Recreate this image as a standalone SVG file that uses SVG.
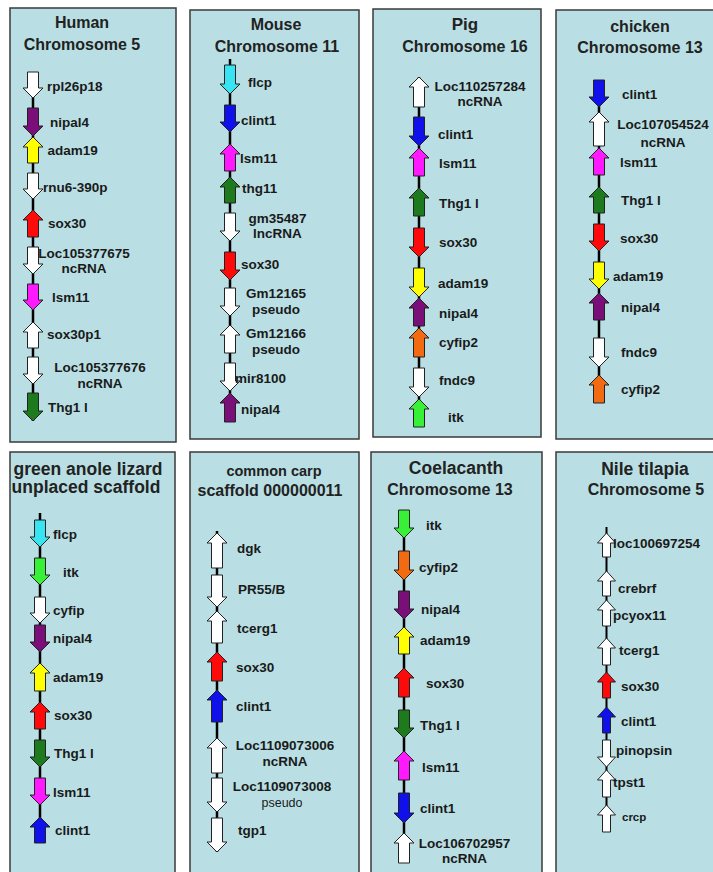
<svg xmlns="http://www.w3.org/2000/svg" width="713" height="872" viewBox="0 0 713 872">
  <style>
    .panel { fill: #b9dfe4; stroke: #3a3a3a; stroke-width: 1.5; }
    .title { font-family: "Liberation Sans", Arial, sans-serif; font-weight: bold; font-size: 16px; fill: #222; text-anchor: middle; }
    .lbl { font-family: "Liberation Sans", Arial, sans-serif; font-weight: bold; font-size: 13.5px; fill: #1a1a1a; }
    .c { text-anchor: middle; }
    .thin { font-weight: normal; font-size: 12.5px; }
    .sm { font-size: 11.5px; }
    .chr { stroke: #000; stroke-width: 2.5; fill: none; }
    .g { stroke: #222; stroke-width: 1; stroke-linejoin: miter; }
    .w { fill: #ffffff; }
    .pu { fill: #7a0f7a; }
    .ye { fill: #ffff00; }
    .re { fill: #ff0a0a; }
    .ma { fill: #ff19ff; }
    .gr { fill: #1d7a1d; }
    .cy { fill: #38e4f2; }
    .bl { fill: #1010ea; }
    .or { fill: #f26a12; }
    .li { fill: #38f038; }
  </style>

  <!-- Human chromosome 5 -->
  <g id="human">
    <rect class="panel" x="10" y="8" width="166" height="434"/>
    <text class="title" x="82" y="28">Human</text>
    <text class="title" x="82" y="50">Chromosome 5</text>
    <g id="human-connectors"><line class="chr" x1="33" y1="72" x2="33" y2="421"/></g>
    <g id="h-rpl26p18"><path class="g w" d="M27.5 72H38.5V88H43L33 98L23 88H27.5Z"/><text class="lbl" x="47" y="91">rpl26p18</text></g>
    <g id="h-nipal4"><path class="g pu" d="M27.5 108H38.5V126H43L33 136L23 126H27.5Z"/><text class="lbl" x="50" y="127">nipal4</text></g>
    <g id="h-adam19"><path class="g ye" d="M27.5 163H38.5V147H43L33 137L23 147H27.5Z"/><text class="lbl" x="47.5" y="155">adam19</text></g>
    <g id="h-rnu6"><path class="g w" d="M27.5 173H38.5V189H43L33 199L23 189H27.5Z"/><text class="lbl" x="43" y="192">rnu6-390p</text></g>
    <g id="h-sox30"><path class="g re" d="M27.5 237H38.5V220H43L33 210L23 220H27.5Z"/><text class="lbl" x="48" y="228">sox30</text></g>
    <g id="h-loc105377675"><path class="g w" d="M27.5 247H38.5V264H43L33 274L23 264H27.5Z"/><text class="lbl c" x="84" y="258">Loc105377675</text><text class="lbl c" x="84" y="273">ncRNA</text></g>
    <g id="h-lsm11"><path class="g ma" d="M27.5 284H38.5V300H43L33 310L23 300H27.5Z"/><text class="lbl" x="52" y="302">lsm11</text></g>
    <g id="h-sox30p1"><path class="g w" d="M27.5 348H38.5V332H43L33 322L23 332H27.5Z"/><text class="lbl" x="47" y="339">sox30p1</text></g>
    <g id="h-loc105377676"><path class="g w" d="M27.5 357H38.5V374H43L33 384L23 374H27.5Z"/><text class="lbl c" x="100" y="372">Loc105377676</text><text class="lbl c" x="100" y="388">ncRNA</text></g>
    <g id="h-thg1l"><path class="g gr" d="M27.5 393H38.5V411H43L33 421L23 411H27.5Z"/><text class="lbl" x="48" y="412">Thg1 l</text></g>
  </g>

  <!-- Mouse chromosome 11 -->
  <g id="mouse">
    <rect class="panel" x="190" y="10" width="169" height="429"/>
    <text class="title" x="276" y="30">Mouse</text>
    <text class="title" x="277" y="52">Chromosome 11</text>
    <g id="mouse-connectors"><line class="chr" x1="230" y1="59" x2="230" y2="422"/></g>
    <g id="m-flcp"><path class="g cy" d="M224.5 65H235.5V84H240L230 94L220 84H224.5Z"/><text class="lbl" x="248" y="87">flcp</text></g>
    <g id="m-clint1"><path class="g bl" d="M224.5 105H235.5V122H240L230 132L220 122H224.5Z"/><text class="lbl" x="241" y="125">clint1</text></g>
    <g id="m-lsm11"><path class="g ma" d="M224.5 171H235.5V154H240L230 144L220 154H224.5Z"/><text class="lbl" x="240" y="163">lsm11</text></g>
    <g id="m-thg11"><path class="g gr" d="M224.5 203H235.5V187H240L230 177L220 187H224.5Z"/><text class="lbl" x="242" y="193">thg11</text></g>
    <g id="m-gm35487"><path class="g w" d="M224.5 213H235.5V231H240L230 241L220 231H224.5Z"/><text class="lbl c" x="277.5" y="223">gm35487</text><text class="lbl c" x="277.5" y="238">lncRNA</text></g>
    <g id="m-sox30"><path class="g re" d="M224.5 252H235.5V270H240L230 280L220 270H224.5Z"/><text class="lbl" x="241" y="269">sox30</text></g>
    <g id="m-gm12165"><path class="g w" d="M224.5 288H235.5V306H240L230 316L220 306H224.5Z"/><text class="lbl c" x="276" y="298">Gm12165</text><text class="lbl c" x="276" y="314">pseudo</text></g>
    <g id="m-gm12166"><path class="g w" d="M224.5 353H235.5V335H240L230 325L220 335H224.5Z"/><text class="lbl c" x="276" y="338">Gm12166</text><text class="lbl c" x="276" y="354">pseudo</text></g>
    <g id="m-mir8100"><path class="g w" d="M224.5 363H235.5V381H240L230 391L220 381H224.5Z"/><text class="lbl" x="235" y="383">mir8100</text></g>
    <g id="m-nipal4"><path class="g pu" d="M224.5 422H235.5V403H240L230 393L220 403H224.5Z"/><text class="lbl" x="241" y="414">nipal4</text></g>
  </g>

  <!-- Pig chromosome 16 -->
  <g id="pig">
    <rect class="panel" x="373" y="9" width="168" height="428"/>
    <text class="title" x="465" y="30" style="font-size:17px">Pig</text>
    <text class="title" x="465" y="52">Chromosome 16</text>
    <g id="pig-connectors"><line class="chr" x1="419" y1="77" x2="419" y2="427"/></g>
    <g id="p-loc110257284"><path class="g w" d="M413.5 107H424.5V87H429L419 77L409 87H413.5Z"/><text class="lbl c" x="480" y="91">Loc110257284</text><text class="lbl c" x="480" y="106">ncRNA</text></g>
    <g id="p-clint1"><path class="g bl" d="M413.5 117H424.5V136H429L419 146L409 136H413.5Z"/><text class="lbl" x="438" y="139">clint1</text></g>
    <g id="p-lsm11"><path class="g ma" d="M413.5 176H424.5V158H429L419 148L409 158H413.5Z"/><text class="lbl" x="439" y="168">lsm11</text></g>
    <g id="p-thg1l"><path class="g gr" d="M413.5 216H424.5V198H429L419 188L409 198H413.5Z"/><text class="lbl" x="439" y="208">Thg1 l</text></g>
    <g id="p-sox30"><path class="g re" d="M413.5 228H424.5V247H429L419 257L409 247H413.5Z"/><text class="lbl" x="439" y="247">sox30</text></g>
    <g id="p-adam19"><path class="g ye" d="M413.5 268H424.5V287H429L419 297L409 287H413.5Z"/><text class="lbl" x="438" y="288">adam19</text></g>
    <g id="p-nipal4"><path class="g pu" d="M413.5 326H424.5V308H429L419 298L409 308H413.5Z"/><text class="lbl" x="439" y="318">nipal4</text></g>
    <g id="p-cyfip2"><path class="g or" d="M413.5 357H424.5V338H429L419 328L409 338H413.5Z"/><text class="lbl" x="439" y="347">cyfip2</text></g>
    <g id="p-fndc9"><path class="g w" d="M413.5 368H424.5V387H429L419 397L409 387H413.5Z"/><text class="lbl" x="439" y="385">fndc9</text></g>
    <g id="p-itk"><path class="g li" d="M413.5 427H424.5V409H429L419 399L409 409H413.5Z"/><text class="lbl" x="448" y="422">itk</text></g>
  </g>

  <!-- Chicken chromosome 13 -->
  <g id="chicken">
    <rect class="panel" x="556" y="10" width="160" height="429"/>
    <text class="title" x="640" y="32">chicken</text>
    <text class="title" x="640" y="53">Chromosome 13</text>
    <g id="chicken-connectors"><line class="chr" x1="599" y1="80" x2="599" y2="403"/></g>
    <g id="c-clint1"><path class="g bl" d="M593.5 80H604.5V97H609L599 107L589 97H593.5Z"/><text class="lbl" x="622" y="99">clint1</text></g>
    <g id="c-loc107054524"><path class="g w" d="M593.5 146H604.5V122H609L599 112L589 122H593.5Z"/><text class="lbl c" x="663" y="129">Loc107054524</text><text class="lbl c" x="663" y="147">ncRNA</text></g>
    <g id="c-lsm11"><path class="g ma" d="M593.5 175H604.5V158H609L599 148L589 158H593.5Z"/><text class="lbl" x="620" y="167">lsm11</text></g>
    <g id="c-thg1l"><path class="g gr" d="M593.5 213H604.5V197H609L599 187L589 197H593.5Z"/><text class="lbl" x="621" y="205">Thg1 l</text></g>
    <g id="c-sox30"><path class="g re" d="M593.5 224H604.5V241H609L599 251L589 241H593.5Z"/><text class="lbl" x="620" y="243">sox30</text></g>
    <g id="c-adam19"><path class="g ye" d="M593.5 262H604.5V279H609L599 289L589 279H593.5Z"/><text class="lbl" x="613" y="281">adam19</text></g>
    <g id="c-nipal4"><path class="g pu" d="M593.5 320H604.5V303H609L599 293L589 303H593.5Z"/><text class="lbl" x="621" y="312">nipal4</text></g>
    <g id="c-fndc9"><path class="g w" d="M593.5 338H604.5V357H609L599 367L589 357H593.5Z"/><text class="lbl" x="621" y="357">fndc9</text></g>
    <g id="c-cyfip2"><path class="g or" d="M593.5 403H604.5V385H609L599 375L589 385H593.5Z"/><text class="lbl" x="621" y="394">cyfip2</text></g>
  </g>

  <!-- Green anole lizard unplaced scaffold -->
  <g id="lizard">
    <rect class="panel" x="10" y="452" width="165" height="430"/>
    <text class="title" x="88" y="475" style="font-size:17.5px">green anole lizard</text>
    <text class="title" x="86" y="493" style="font-size:17.5px">unplaced scaffold</text>
    <g id="lizard-connectors"><line class="chr" x1="40" y1="513" x2="40" y2="843"/></g>
    <g id="l-flcp"><path class="g cy" d="M34.5 520H45.5V537H50L40 547L30 537H34.5Z"/><text class="lbl" x="53" y="539">flcp</text></g>
    <g id="l-itk"><path class="g li" d="M34.5 558H45.5V575H50L40 585L30 575H34.5Z"/><text class="lbl" x="63" y="577">itk</text></g>
    <g id="l-cyfip"><path class="g w" d="M34.5 597H45.5V613H50L40 623L30 613H34.5Z"/><text class="lbl" x="53" y="615">cyfip</text></g>
    <g id="l-nipal4"><path class="g pu" d="M34.5 625H45.5V642H50L40 652L30 642H34.5Z"/><text class="lbl" x="53" y="643">nipal4</text></g>
    <g id="l-adam19"><path class="g ye" d="M34.5 691H45.5V673H50L40 663L30 673H34.5Z"/><text class="lbl" x="53" y="682">adam19</text></g>
    <g id="l-sox30"><path class="g re" d="M34.5 729H45.5V712H50L40 702L30 712H34.5Z"/><text class="lbl" x="54" y="720">sox30</text></g>
    <g id="l-thg1l"><path class="g gr" d="M34.5 740H45.5V757H50L40 767L30 757H34.5Z"/><text class="lbl" x="54" y="758">Thg1 l</text></g>
    <g id="l-lsm11"><path class="g ma" d="M34.5 778H45.5V795H50L40 805L30 795H34.5Z"/><text class="lbl" x="53" y="797">lsm11</text></g>
    <g id="l-clint1"><path class="g bl" d="M34.5 843H45.5V827H50L40 817L30 827H34.5Z"/><text class="lbl" x="55" y="835">clint1</text></g>
  </g>

  <!-- Common carp scaffold -->
  <g id="carp">
    <rect class="panel" x="190" y="452" width="169" height="430"/>
    <text class="title" x="274" y="476" style="font-size:14.5px">common carp</text>
    <text class="title" x="270" y="496">scaffold 000000011</text>
    <g id="carp-connectors"><line class="chr" x1="217" y1="531" x2="217" y2="852"/></g>
    <g id="k-dgk"><path class="g w" d="M211.5 568H222.5V543H227L217 533L207 543H211.5Z"/><text class="lbl" x="237" y="553">dgk</text></g>
    <g id="k-pr55b"><path class="g w" d="M211.5 575H222.5V597H227L217 607L207 597H211.5Z"/><text class="lbl" x="238" y="594">PR55/B</text></g>
    <g id="k-tcerg1"><path class="g w" d="M211.5 643H222.5V621H227L217 611L207 621H211.5Z"/><text class="lbl" x="237" y="633">tcerg1</text></g>
    <g id="k-sox30"><path class="g re" d="M211.5 681H222.5V662H227L217 652L207 662H211.5Z"/><text class="lbl" x="236" y="672">sox30</text></g>
    <g id="k-clint1"><path class="g bl" d="M211.5 722H222.5V700H227L217 690L207 700H211.5Z"/><text class="lbl" x="236" y="711">clint1</text></g>
    <g id="k-loc1109073006"><path class="g w" d="M211.5 773H222.5V748H227L217 738L207 748H211.5Z"/><text class="lbl c" x="285" y="750">Loc1109073006</text><text class="lbl c" x="285" y="766">ncRNA</text></g>
    <g id="k-loc1109073008"><path class="g w" d="M211.5 778H222.5V802H227L217 812L207 802H211.5Z"/><text class="lbl c" x="282" y="791">Loc1109073008</text><text class="lbl c thin" x="282" y="807">pseudo</text></g>
    <g id="k-tgp1"><path class="g w" d="M211.5 818H222.5V842H227L217 852L207 842H211.5Z"/><text class="lbl" x="238" y="835">tgp1</text></g>
  </g>

  <!-- Coelacanth chromosome 13 -->
  <g id="coelacanth">
    <rect class="panel" x="371" y="452" width="171" height="430"/>
    <text class="title" x="456" y="474" style="font-size:17.5px">Coelacanth</text>
    <text class="title" x="450" y="495">Chromosome 13</text>
    <g id="coelacanth-connectors"><line class="chr" x1="404" y1="510" x2="404" y2="863"/></g>
    <g id="o-itk"><path class="g li" d="M398.5 510H409.5V528H414L404 538L394 528H398.5Z"/><text class="lbl" x="426" y="530">itk</text></g>
    <g id="o-cyfip2"><path class="g or" d="M398.5 551H409.5V570H414L404 580L394 570H398.5Z"/><text class="lbl" x="419" y="572">cyfip2</text></g>
    <g id="o-nipal4"><path class="g pu" d="M398.5 591H409.5V609H414L404 619L394 609H398.5Z"/><text class="lbl" x="421" y="614">nipal4</text></g>
    <g id="o-adam19"><path class="g ye" d="M398.5 654H409.5V637H414L404 627L394 637H398.5Z"/><text class="lbl" x="420" y="645">adam19</text></g>
    <g id="o-sox30"><path class="g re" d="M398.5 697H409.5V678H414L404 668L394 678H398.5Z"/><text class="lbl" x="426" y="688">sox30</text></g>
    <g id="o-thg1l"><path class="g gr" d="M398.5 710H409.5V728H414L404 738L394 728H398.5Z"/><text class="lbl" x="420" y="730">Thg1 l</text></g>
    <g id="o-lsm11"><path class="g ma" d="M398.5 780H409.5V761H414L404 751L394 761H398.5Z"/><text class="lbl" x="422" y="772">lsm11</text></g>
    <g id="o-clint1"><path class="g bl" d="M398.5 793H409.5V813H414L404 823L394 813H398.5Z"/><text class="lbl" x="420" y="813">clint1</text></g>
    <g id="o-loc106702957"><path class="g w" d="M398.5 863H409.5V843H414L404 833L394 843H398.5Z"/><text class="lbl c" x="464.5" y="848">Loc106702957</text><text class="lbl c" x="464.5" y="863">ncRNA</text></g>
  </g>

  <!-- Nile tilapia chromosome 5 -->
  <g id="tilapia">
    <rect class="panel" x="556" y="452" width="160" height="430"/>
    <text class="title" x="645" y="475" style="font-size:17.5px">Nile tilapia</text>
    <text class="title" x="646" y="495">Chromosome 5</text>
    <g id="tilapia-connectors"><line class="chr" x1="606.5" y1="527" x2="606.5" y2="832" style="stroke-width:2"/></g>
    <g id="t-loc100697254"><path class="g w" d="M602.5 557H610.5V543H615.5L606.5 533L597.5 543H602.5Z"/><text class="lbl" x="613" y="548">loc100697254</text></g>
    <g id="t-crebrf"><path class="g w" d="M602.5 596H610.5V581H615.5L606.5 571L597.5 581H602.5Z"/><text class="lbl" x="618" y="593">crebrf</text></g>
    <g id="t-pcyox11"><path class="g w" d="M602.5 626H610.5V610H615.5L606.5 600L597.5 610H602.5Z"/><text class="lbl" x="613" y="620">pcyox11</text></g>
    <g id="t-tcerg1"><path class="g w" d="M602.5 665H610.5V648H615.5L606.5 638L597.5 648H602.5Z"/><text class="lbl" x="619" y="655">tcerg1</text></g>
    <g id="t-sox30"><path class="g re" d="M602.5 698H610.5V682H615.5L606.5 672L597.5 682H602.5Z"/><text class="lbl" x="621" y="691">sox30</text></g>
    <g id="t-clint1"><path class="g bl" d="M602.5 733H610.5V717H615.5L606.5 707L597.5 717H602.5Z"/><text class="lbl" x="621" y="726">clint1</text></g>
    <g id="t-pinopsin"><path class="g w" d="M602.5 740H610.5V757H615.5L606.5 767L597.5 757H602.5Z"/><text class="lbl" x="616" y="755">pinopsin</text></g>
    <g id="t-tpst1"><path class="g w" d="M602.5 797H610.5V780H615.5L606.5 770L597.5 780H602.5Z"/><text class="lbl" x="613" y="787">tpst1</text></g>
    <g id="t-crcp"><path class="g w" d="M602.5 832H610.5V815H615.5L606.5 805L597.5 815H602.5Z"/><text class="lbl sm" x="622" y="821">crcp</text></g>
  </g>
</svg>
